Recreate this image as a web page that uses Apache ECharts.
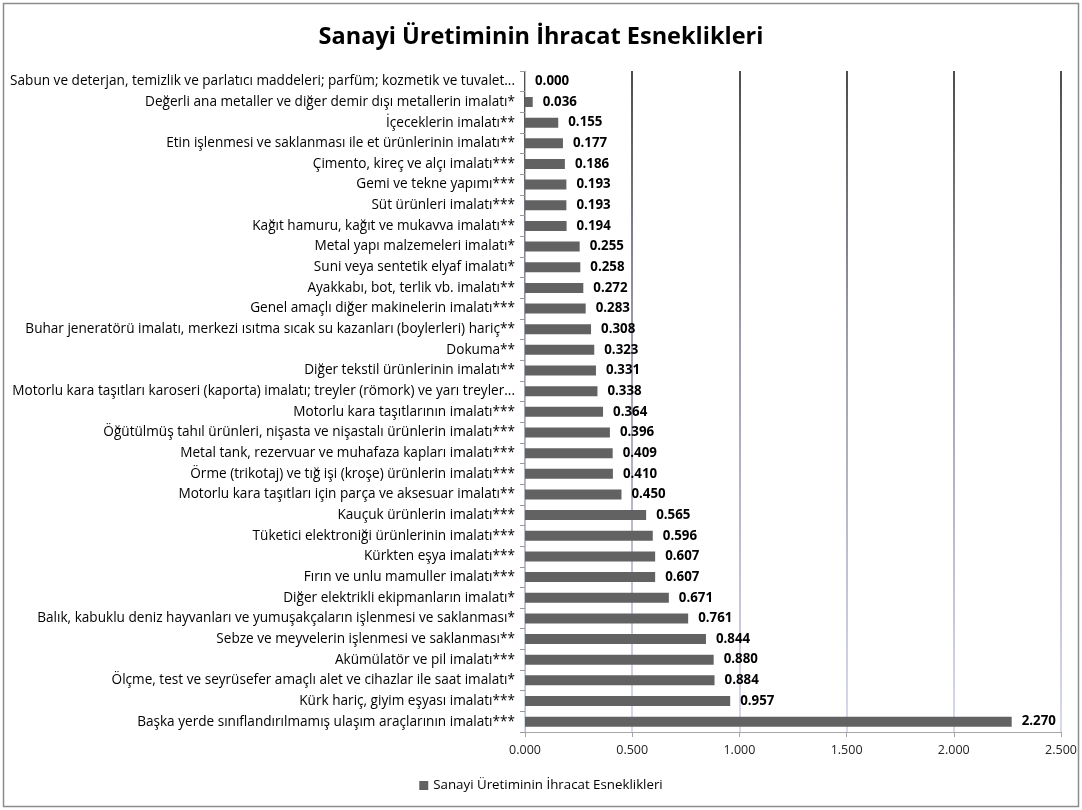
<!DOCTYPE html>
<html><head><meta charset="utf-8">
<script src="https://cdn.jsdelivr.net/npm/echarts@6/dist/echarts.min.js"></script>
<style>html,body{margin:0;padding:0;background:#fff}#c{width:1082px;height:810px}</style>
</head><body><div id="c"></div>
<script>
const titleText = 'Sanayi Üretiminin İhracat Esneklikleri';
const seriesName = 'Sanayi Üretiminin İhracat Esneklikleri';
const categories = [
 'Sabun ve deterjan, temizlik ve parlatıcı maddeleri; parfüm; kozmetik ve tuvalet...',
 'Değerli ana metaller ve diğer demir dışı metallerin imalatı*',
 'İçeceklerin imalatı**',
 'Etin işlenmesi ve saklanması ile et ürünlerinin imalatı**',
 'Çimento, kireç ve alçı imalatı***',
 'Gemi ve tekne yapımı***',
 'Süt ürünleri imalatı***',
 'Kağıt hamuru, kağıt ve mukavva imalatı**',
 'Metal yapı malzemeleri imalatı*',
 'Suni veya sentetik elyaf imalatı*',
 'Ayakkabı, bot, terlik vb. imalatı**',
 'Genel amaçlı diğer makinelerin imalatı***',
 'Buhar jeneratörü imalatı, merkezi ısıtma sıcak su kazanları (boylerleri) hariç**',
 'Dokuma**',
 'Diğer tekstil ürünlerinin imalatı**',
 'Motorlu kara taşıtları karoseri (kaporta) imalatı; treyler (römork) ve yarı treyler...',
 'Motorlu kara taşıtlarının imalatı***',
 'Öğütülmüş tahıl ürünleri, nişasta ve nişastalı ürünlerin imalatı***',
 'Metal tank, rezervuar ve muhafaza kapları imalatı***',
 'Örme (trikotaj) ve tığ işi (kroşe) ürünlerin imalatı***',
 'Motorlu kara taşıtları için parça ve aksesuar imalatı**',
 'Kauçuk ürünlerin imalatı***',
 'Tüketici elektroniği ürünlerinin imalatı***',
 'Kürkten eşya imalatı***',
 'Fırın ve unlu mamuller imalatı***',
 'Diğer elektrikli ekipmanların imalatı*',
 'Balık, kabuklu deniz hayvanları ve yumuşakçaların işlenmesi ve saklanması*',
 'Sebze ve meyvelerin işlenmesi ve saklanması**',
 'Akümülatör ve pil imalatı***',
 'Ölçme, test ve seyrüsefer amaçlı alet ve cihazlar ile saat imalatı*',
 'Kürk hariç, giyim eşyası imalatı***',
 'Başka yerde sınıflandırılmamış ulaşım araçlarının imalatı***'
];
const values = [0.000,0.036,0.155,0.177,0.186,0.193,0.193,0.194,0.255,0.258,0.272,0.283,0.308,0.323,0.331,0.338,0.364,0.396,0.409,0.410,0.450,0.565,0.596,0.607,0.607,0.671,0.761,0.844,0.880,0.884,0.957,2.270];
const xTicks = {min:0, max:2.5, interval:0.5};

const FONT = '"Open Sans", "Noto Sans", sans-serif';
const chart = echarts.init(document.getElementById('c'));
chart.setOption({
  animation:false,
  backgroundColor:'#fff',
  title:{text:titleText,left:'center',top:20,textStyle:{fontFamily:FONT,fontSize:23.5,fontWeight:'bold',color:'#000'}},
  legend:{bottom:13,left:'center',itemWidth:9,itemHeight:9,icon:'rect',itemGap:4,
    textStyle:{fontFamily:FONT,fontSize:13.3,color:'#000'},data:[seriesName]},
  grid:{left:525,right:21,top:71,bottom:78,containLabel:false},
  xAxis:{type:'value',min:xTicks.min,max:xTicks.max,interval:xTicks.interval,
    axisLine:{show:true,lineStyle:{color:'#a6a6a6'}},
    axisTick:{show:true,length:5,lineStyle:{color:'#a6a6a6'}},
    axisLabel:{margin:12,fontFamily:FONT,fontSize:12.5,color:'#222',formatter:v=>v.toFixed(3)},
    splitLine:{show:true,lineStyle:{width:1.5,color:{type:'linear',x:0,y:71,x2:0,y2:732,global:true,
      colorStops:[{offset:0,color:'#111111'},{offset:0.4,color:'#7a7f90'},{offset:1,color:'#c9cfe3'}]}}}},
  yAxis:{type:'category',inverse:true,data:categories,
    axisLine:{show:true,lineStyle:{color:'#bfbfbf'}},
    axisTick:{show:true,length:5,alignWithLabel:false,lineStyle:{color:'#999'}},
    axisLabel:{margin:10,fontFamily:FONT,fontSize:13.6,color:'#000'}},
  series:[{name:seriesName,type:'bar',data:values,barWidth:10,
    itemStyle:{color:'#626262'},
    label:{show:true,position:'right',distance:10,fontFamily:FONT,fontSize:13.3,fontWeight:'bold',color:'#000',
      formatter:p=>p.value.toFixed(3)}}],
  graphic:[{type:'rect',shape:{x:3.5,y:3.5,width:1075,height:803},style:{fill:'none',stroke:'#8c8c8c',lineWidth:1.5},silent:true}]
});
</script></body></html>
